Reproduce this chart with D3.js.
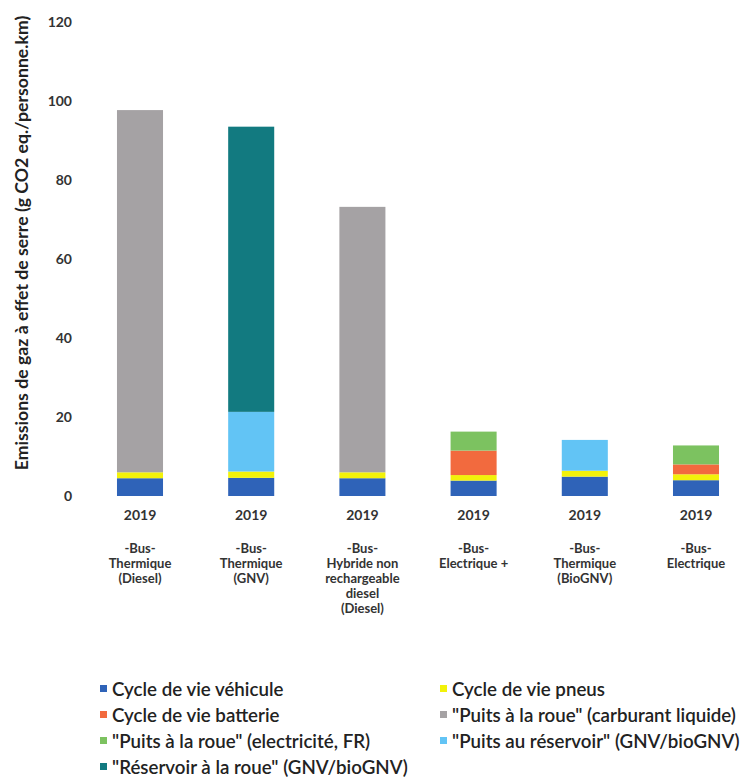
<!DOCTYPE html>
<html>
<head>
<meta charset="utf-8">
<script src="https://cdn.jsdelivr.net/npm/d3@7"></script>
<style>
  html, body { margin: 0; padding: 0; background: #ffffff; }
  svg { display: block; }
</style>
</head>
<body>
<svg id="chart" width="744" height="779"></svg>
<script>
// Bus types compared (2019), one multi-line label each
const years = ["2019", "2019", "2019", "2019", "2019", "2019"];
const categories = [
  ["-Bus-", "Thermique", "(Diesel)"],
  ["-Bus-", "Thermique", "(GNV)"],
  ["-Bus-", "Hybride non", "rechargeable", "diesel", "(Diesel)"],
  ["-Bus-", "Electrique +"],
  ["-Bus-", "Thermique", "(BioGNV)"],
  ["-Bus-", "Electrique"]
];

// Emissions per component, g CO2 eq./personne.km
const cycleVieVehicule   = [4.5, 4.6, 4.5, 3.9, 4.9, 4.0];
const cycleViePneus      = [1.5, 1.6, 1.5, 1.4, 1.5, 1.5];
const cycleVieBatterie   = [0, 0, 0, 6.2, 0, 2.5];
const puitsRoueLiquide   = [91.7, 0, 67.2, 0, 0, 0];
const puitsRoueElec      = [0, 0, 0, 4.8, 0, 4.8];
const puitsReservoir     = [0, 15.1, 0, 0, 7.8, 0];
const reservoirRoue      = [0, 72.2, 0, 0, 0, 0];

const seriesNames = [
  "Cycle de vie véhicule",
  "Cycle de vie pneus",
  "Cycle de vie batterie",
  "\"Puits à la roue\" (carburant liquide)",
  "\"Puits à la roue\" (electricité, FR)",
  "\"Puits au réservoir\" (GNV/bioGNV)",
  "\"Réservoir à la roue\" (GNV/bioGNV)"
];
const seriesValues = [
  cycleVieVehicule, cycleViePneus, cycleVieBatterie, puitsRoueLiquide,
  puitsRoueElec, puitsReservoir, reservoirRoue
];
const seriesColors = ["#2f63b8", "#f2f20a", "#f26a3e", "#a5a2a4", "#7cc260", "#62c4f5", "#127a80"];

const yTicks = [0, 20, 40, 60, 80, 100, 120];
const yTitle = "Emissions de gaz à effet de serre (g CO2 eq./personne.km)";

// Build table rows for d3.stack
const keys = seriesNames.map((_, i) => "s" + i);
const rows = categories.map((c, j) => {
  const r = { idx: j };
  keys.forEach((k, i) => { r[k] = seriesValues[i][j]; });
  return r;
});
const stacked = d3.stack().keys(keys)(rows);

const svg = d3.select("#chart");
const font = "Lato, 'Open Sans', sans-serif";

const x = d3.scaleBand()
  .domain(d3.range(categories.length))
  .range([84.4, 751.6])
  .paddingInner(0.586)
  .paddingOuter(0.293);

const y = d3.scaleLinear().domain([0, 120]).range([496, 22]);

// Stacked bars
const layers = svg.append("g").selectAll("g")
  .data(stacked)
  .join("g")
  .attr("fill", (d, i) => seriesColors[i]);

layers.selectAll("rect")
  .data(d => d)
  .join("rect")
  .attr("x", d => x(d.data.idx))
  .attr("width", x.bandwidth())
  .attr("y", d => y(d[1]))
  .attr("height", d => Math.max(0, y(d[0]) - y(d[1])));

// Y axis (labels only)
const yAxis = svg.append("g")
  .attr("transform", "translate(76,0)")
  .call(d3.axisLeft(y).tickValues(yTicks).tickSize(0).tickPadding(4));
yAxis.select(".domain").remove();
yAxis.selectAll("text")
  .attr("font-family", font)
  .attr("font-weight", "bold")
  .attr("font-size", 14)
  .attr("fill", "#333333");

// Y axis title, fitted to its span
const title = svg.append("text")
  .attr("transform", "translate(21,243) rotate(-90)")
  .attr("text-anchor", "middle")
  .attr("dominant-baseline", "central")
  .attr("font-family", font)
  .attr("font-weight", "bold")
  .attr("font-size", 14)
  .attr("fill", "#222222")
  .text(yTitle);
const tw = title.node().getComputedTextLength();
title.attr("font-size", 14 * 455 / tw);

// X axis: year row
const xAxis = svg.append("g")
  .attr("transform", "translate(0,510)")
  .call(d3.axisBottom(x).tickSize(0).tickPadding(0).tickFormat(i => years[i]));
xAxis.select(".domain").remove();
xAxis.selectAll("text")
  .attr("font-family", font)
  .attr("font-weight", "bold")
  .attr("font-size", 14)
  .attr("fill", "#333333");

// Category labels, multi-line
const lineH = 15;
const catG = svg.append("g");
categories.forEach((lines, i) => {
  const t = catG.append("text")
    .attr("text-anchor", "middle")
    .attr("font-family", font)
    .attr("font-weight", "bold")
    .attr("font-size", 13)
    .attr("fill", "#333333");
  lines.forEach((ln, k) => {
    t.append("tspan")
      .attr("x", x(i) + x.bandwidth() / 2)
      .attr("y", 548 + k * lineH)
      .attr("dominant-baseline", "central")
      .text(ln);
  });
});

// Legend: two columns, row-major
const legend = svg.append("g");
const legendItems = [];
seriesNames.forEach((name, i) => {
  const col = i % 2, row = Math.floor(i / 2);
  const gx = col === 0 ? 100 : 440;
  const gy = 689 + row * 26;
  const g = legend.append("g").attr("transform", `translate(${gx},${gy})`);
  g.append("rect")
    .attr("x", 0).attr("y", -4)
    .attr("width", 7).attr("height", 7)
    .attr("fill", seriesColors[i]);
  legendItems.push(g.append("text")
    .attr("x", 12)
    .attr("y", 0)
    .attr("dominant-baseline", "central")
    .attr("font-family", font)
    .attr("font-weight", 600)
    .attr("font-size", 16)
    .attr("fill", "#222222")
    .text(name));
});
// Size legend text so the longest entry spans its column
const longest = legendItems[6].node().getComputedTextLength();
const legendSize = 16 * 296 / longest;
legendItems.forEach(t => t.attr("font-size", legendSize));
</script>
</body>
</html>
